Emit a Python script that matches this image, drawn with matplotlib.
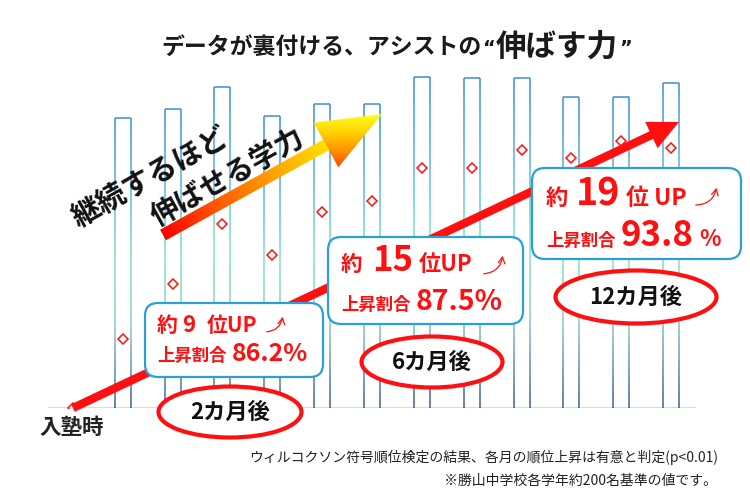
import numpy as np
import matplotlib
matplotlib.use("Agg")
import matplotlib.pyplot as plt
from matplotlib.collections import LineCollection
from matplotlib.colors import LinearSegmentedColormap
from matplotlib.patches import FancyArrowPatch, FancyBboxPatch, Ellipse, Polygon

plt.rcParams['font.family'] = ['Noto Sans CJK JP', 'DejaVu Sans']

########################################################### DATA
months = [1, 2, 3, 4, 5, 6, 7, 8, 9, 10, 11, 12]
bar_top = [290, 299, 321, 292, 304, 304, 331, 330, 330, 311, 311, 325]
rise_month = [0, 1, 2, 3, 4, 5, 6, 7, 8, 9, 10, 11, 12]
rise_val = [0, 69, 124, 184, 153, 196, 207, 240, 240, 258, 250, 267, 260]

title_small = 'データが裏付ける、アシストの'
title_big = '伸ばす力'
start_label = '入塾時'
slogan = ['継続するほど', '伸ばせる学力']
periods = ['2カ月後', '6カ月後', '12カ月後']
rank_up = ['9', '15', '19']
rate_up = ['86.2%', '87.5%', '93.8']
note1 = 'ウィルコクソン符号順位検定の結果、各月の順位上昇は有意と判定(p<0.01)'
note2 = '※勝山中学校各学年約200名基準の値です。'

RED = '#ff1010'

fig = plt.figure(figsize=(7.5, 4.98), dpi=100)

############################################################ MAIN AXES (bars + diamonds)
ax = fig.add_axes([48/750, 90/498, 648/750, 348/498])
ax.set_xlim(-0.5, 12.5)
ax.set_ylim(0, 348)
ax.axis('off')

bar_cmap = LinearSegmentedColormap.from_list('edge', [
    (0.0, '#3a8fd0'), (0.25, '#58b6dc'), (0.5, '#80e6c2'),
    (0.72, '#8ccdc6'), (1.0, '#3a5f92')])
w = 0.32
segs, cols = [], []
for m, top in zip(months, bar_top):
    ys = np.linspace(top, 0, 60)
    for xe in (m - w/2, m + w/2):
        for k in range(len(ys) - 1):
            segs.append([(xe, ys[k]), (xe, ys[k+1])])
            cols.append(bar_cmap(k / (len(ys) - 2)))
    segs.append([(m - w/2, top), (m + w/2, top)])
    cols.append(bar_cmap(0.0))
ax.add_collection(LineCollection(segs, colors=cols, linewidths=1.1))

ax.plot([-0.5, 12.5], [0, 0], color='#dcdcdc', lw=1.5, zorder=1)
ax.plot(rise_month, rise_val, linestyle='none', marker='D', markersize=5,
        markerfacecolor='white', markeredgecolor=RED, markeredgewidth=1.1, zorder=3)

############################################################ OVERLAY (pixel coords)
ov = fig.add_axes([0, 0, 1, 1], zorder=5)
ov.set_xlim(0, 750)
ov.set_ylim(498, 0)
ov.axis('off')

# big red arrow from start point
fig.canvas.draw()
p0 = ov.transData.inverted().transform(ax.transData.transform((rise_month[0], rise_val[0])))
big = FancyArrowPatch(tuple(p0), (679, 122), arrowstyle='simple,head_length=22,head_width=21,tail_width=6',
                      mutation_scale=1, color=RED, lw=0, shrinkA=0, shrinkB=0, zorder=1)
ov.add_patch(big)

# gradient arrow
tail = np.array([163.0, 235.0])
tip = np.array([382.0, 114.0])
d = (tip - tail) / np.linalg.norm(tip - tail)
n = np.array([-d[1], d[0]])
base = tail + d * (np.linalg.norm(tip - tail) - 64)
hw = 6.0
shaft = Polygon([tail + n*hw, base + n*hw, base - n*hw, tail - n*hw], closed=True, transform=ov.transData)
head = Polygon([base + n*25.5, tip, base - n*25.5], closed=True, transform=ov.transData)
X, Y = np.meshgrid(np.arange(750) + 0.5, np.arange(498) + 0.5)
t = np.clip(((X - tail[0]) * d[0] + (Y - tail[1]) * d[1]) / np.linalg.norm(base - tail), 0, 1)
grad = LinearSegmentedColormap.from_list('g', ['#ff0000', '#ff5a00', '#ffa000', '#ffe000'])
im1 = ov.imshow(grad(t), extent=(0, 750, 498, 0), origin='upper', zorder=3, interpolation='bilinear')
im1.set_clip_path(shaft)
tv = np.clip((Y - 114) / (170 - 114), 0, 1)
grad2 = LinearSegmentedColormap.from_list('g2', ['#ffff20', '#ffd000', '#ff9000', '#ff3a00'])
im2 = ov.imshow(grad2(tv), extent=(0, 750, 498, 0), origin='upper', zorder=3, interpolation='bilinear')
im2.set_clip_path(head)
ov.set_xlim(0, 750)
ov.set_ylim(498, 0)

ov.text(150, 177, slogan[0], fontsize=21, fontweight='bold', rotation=29, ha='center', va='center',
        rotation_mode='anchor', color='#111111', zorder=4)
ov.text(228, 178, slogan[1], fontsize=20.5, fontweight='bold', rotation=29, ha='center', va='center',
        rotation_mode='anchor', color='#111111', zorder=4)

# title
ov.text(482, 54, title_small, fontsize=16.5, fontweight='bold', ha='right', va='baseline', color='#1a1a1a')
ov.text(483, 54, '\u201c', fontsize=14, fontweight='bold', ha='left', va='baseline', color='#1a1a1a',
        family='DejaVu Sans')
ov.text(496, 56, title_big, fontsize=22, fontweight='bold', ha='left', va='baseline', color='#1a1a1a')
ov.text(619, 54, '\u201d', fontsize=14, fontweight='bold', ha='left', va='baseline', color='#1a1a1a',
        family='DejaVu Sans')

ov.text(72, 427, start_label, fontsize=15.5, fontweight='bold', ha='center', va='center', color='#222222')

# boxes
boxes = [(145, 303, 178, 74), (328, 237, 195, 87), (532, 168, 209, 91)]
for bx, by, bw, bh in boxes:
    ov.add_patch(FancyBboxPatch((bx, by), bw, bh, boxstyle='round,pad=0,rounding_size=13',
                                facecolor='white', edgecolor='#2a9fdc', lw=1.6, zorder=5))

def piece(x, y, s, fs):
    ov.text(x, y, s, fontsize=fs, fontweight='bold', ha='left', va='baseline', color=RED, zorder=6)

piece(157, 332, '約', 15); piece(182, 332, rank_up[0], 16); piece(207, 332, '位UP', 15)
piece(157, 361, '上昇割合', 12.5); piece(232, 361, rate_up[0], 18)
piece(341, 271, '約', 15.5); piece(372, 271, rank_up[1], 25); piece(419, 271, '位UP', 16)
piece(341, 310, '上昇割合', 12.5); piece(416, 310, rate_up[1], 20.5)
piece(546, 205, '約', 16); piece(576, 205, rank_up[2], 27); piece(626, 205, '位 UP', 16.5)
piece(546, 246, '上昇割合', 12.5); piece(621, 246, rate_up[2], 25); piece(699, 246, '%', 16)

for (x0, y0, x1, y1) in [(264, 332, 283, 314), (481, 274, 503, 253), (693, 205, 717, 185)]:
    ov.add_patch(FancyArrowPatch((x0, y0), (x1, y1), connectionstyle='arc3,rad=0.45',
                                 arrowstyle='->,head_length=3,head_width=1.6', mutation_scale=1.5,
                                 color=RED, lw=0.9, zorder=6))

# ellipses
ells = [(230, 412, 143, 51), (432, 362, 141, 51), (636, 297, 161, 53)]
for (cx, cy, ew, eh), lab in zip(ells, periods):
    ov.add_patch(Ellipse((cx, cy), ew, eh, facecolor='white', edgecolor=RED, lw=3, zorder=5))
    ov.text(cx, cy, lab, fontsize=16, fontweight='bold', ha='center', va='center', color='#111111', zorder=6)

# notes
ov.text(718, 457, note1, fontsize=10, ha='right', va='center', color='#222222')
ov.text(717, 481, note2, fontsize=10, ha='right', va='center', color='#222222')

fig.savefig('out.png', dpi=100)
